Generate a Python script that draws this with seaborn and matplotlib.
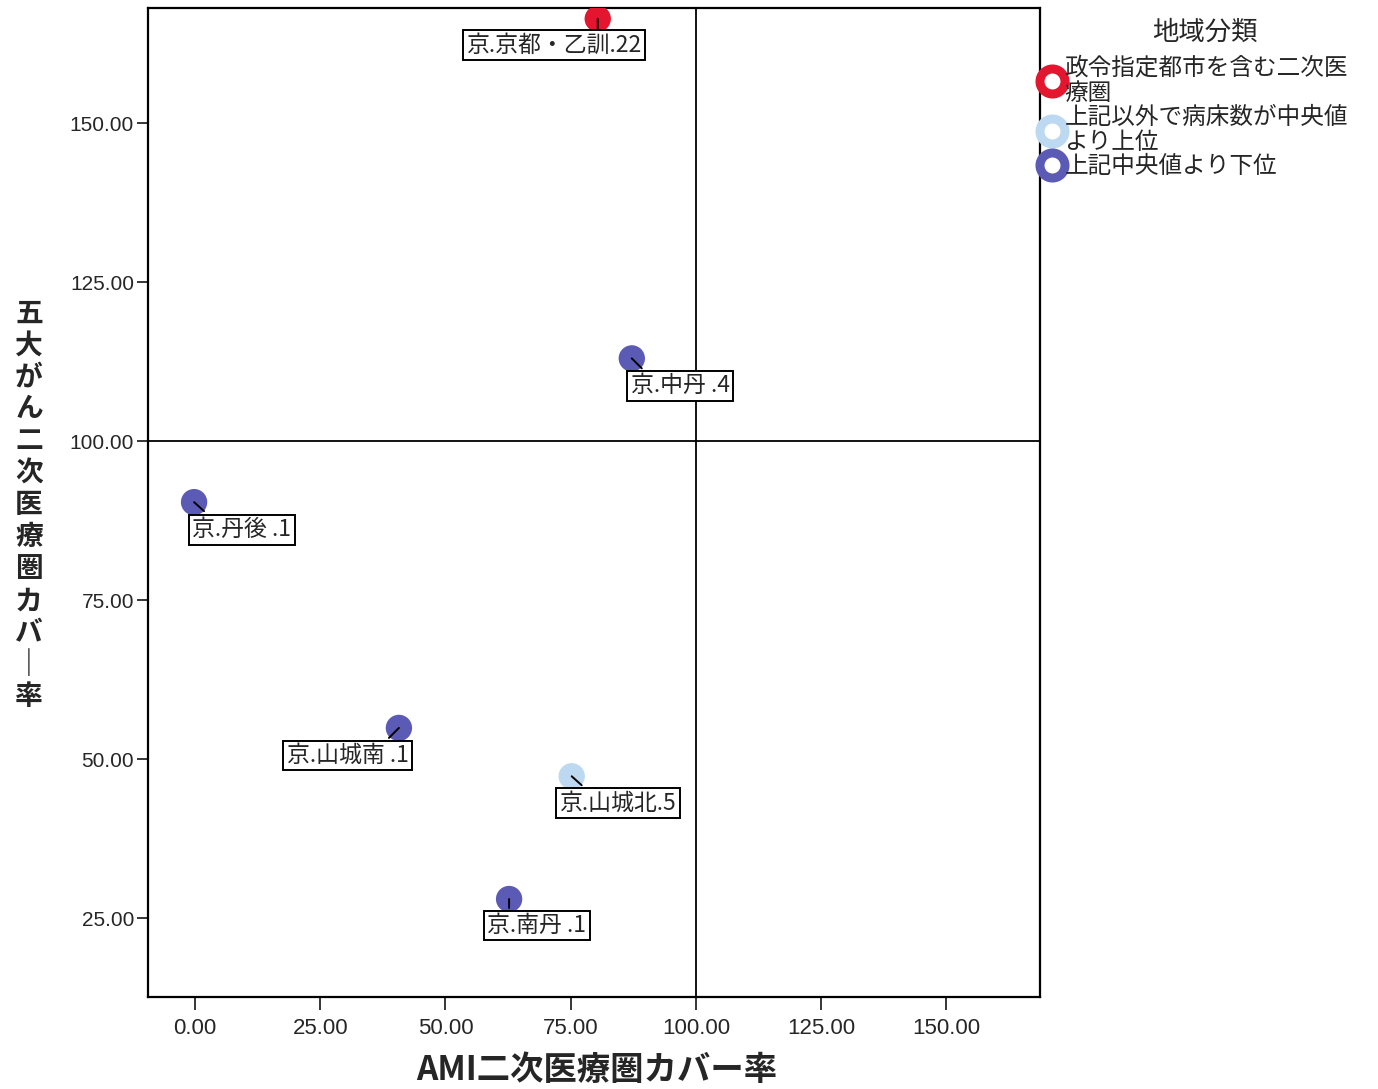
import seaborn as sns
import pandas as pd
import matplotlib.pyplot as plt
from matplotlib.lines import Line2D

# data
regions = ["京.京都・乙訓.22", "京.中丹 .4", "京.丹後 .1", "京.山城南 .1", "京.山城北.5", "京.南丹 .1"]
ami_cover = [80.4, 87.2, -0.2, 40.7, 75.2, 62.7]
cancer_cover = [166.4, 113.0, 90.4, 54.9, 47.3, 28.0]
groups = ["政令指定都市を含む二次医療圏", "上記中央値より下位", "上記中央値より下位",
          "上記中央値より下位", "上記以外で病床数が中央値より上位", "上記中央値より下位"]

group_order = ["政令指定都市を含む二次医療圏", "上記以外で病床数が中央値より上位", "上記中央値より下位"]
legend_labels = ["政令指定都市を含む二次医\n療圏", "上記以外で病床数が中央値\nより上位", "上記中央値より下位"]
colors = ["#e3152f", "#bcd9f1", "#5b5bb5"]

# label box placement in pixels (left, top relative to point) and connector end
label_offsets = [(-136, -11), (-6, -12), (-7, -12), (-117, -12), (-17, -11), (-27, -11)]
connector_ends = [(0, -11), (10, -10), (10, -9), (-10, -10), (10, -9), (0, -9)]

df = pd.DataFrame({"region": regions, "ami": ami_cover, "cancer": cancer_cover, "group": groups})

sns.set_style("white")
plt.rcParams['font.family'] = ['Noto Sans CJK JP', 'DejaVu Sans']

fig = plt.figure(figsize=(13.78, 10.89), dpi=100)
ax = fig.add_axes([0.1074, 0.0845, 0.6473, 0.9082])

sns.scatterplot(
    data=df,
    x="ami",
    y="cancer",
    hue="group",
    hue_order=group_order,
    palette=colors,
    s=360,
    edgecolor="none",
    legend=False,
    zorder=3,
    ax=ax
)

ax.axvline(100, color="black", lw=1.3, zorder=1)
ax.axhline(100, color="black", lw=1.3, zorder=1)

for i, row in df.iterrows():
    dx, dy = label_offsets[i]
    ax.annotate(
        row["region"], (row["ami"], row["cancer"]),
        xytext=(dx + 5, dy - 4), textcoords="offset pixels",
        ha="left", va="top", fontsize=16.5, zorder=4,
        bbox=dict(boxstyle="square,pad=0.15", fc="white", ec="black", lw=1.4),
    )
    cx, cy = connector_ends[i]
    ax.annotate("", (row["ami"], row["cancer"]), xytext=(cx, cy),
                textcoords="offset pixels",
                arrowprops=dict(arrowstyle="-", color="black", lw=1.4,
                                shrinkA=0, shrinkB=0), zorder=3.5)

ax.set_xlim(-9.4, 168.7)
ax.set_ylim(12.6, 168.1)
ax.set_xticks([0, 25, 50, 75, 100, 125, 150])
ax.set_yticks([25, 50, 75, 100, 125, 150])
ax.xaxis.set_major_formatter(lambda v, p: f"{v:.2f}")
ax.yaxis.set_major_formatter(lambda v, p: f"{v:.2f}")
ax.tick_params(axis="x", direction="out", length=9, width=1.3, labelsize=16, pad=6, bottom=True)
ax.tick_params(axis="y", direction="out", length=8, width=1.3, labelsize=15, pad=2, left=True)
for lab in ax.get_xticklabels() + ax.get_yticklabels():
    lab.set_family("Liberation Sans")
for sp in ax.spines.values():
    sp.set_color("black")
    sp.set_linewidth(1.6)

ax.set_xlabel("")
ax.set_ylabel("")
fig.text(0.433, 0.017, "AMI二次医療圏カバー率", ha="center", va="center",
         fontsize=24, fontweight="bold")
fig.text(0.021, 0.536, "\n".join("五大がん二次医療圏カバ｜率"), ha="center", va="center",
         fontsize=20, fontweight="bold", linespacing=1.18)

# legend title placed on its own, entries below it
fig.text(0.874, 0.970, "地域分類", ha="center", va="center", fontsize=19)
handles = [Line2D([], [], marker="o", linestyle="none", markersize=18,
                  markerfacecolor="white", markeredgecolor=c, markeredgewidth=6.5)
           for c in colors]
leg = fig.legend(handles, legend_labels, loc="upper left",
                 bbox_to_anchor=(0.7545, 0.948), frameon=False, fontsize=17,
                 handletextpad=0.05, labelspacing=0.05,
                 handlelength=1.0, borderaxespad=0, borderpad=0)
for t in leg.get_texts():
    t.set_linespacing(1.12)

fig.savefig("out.png", dpi=100)
